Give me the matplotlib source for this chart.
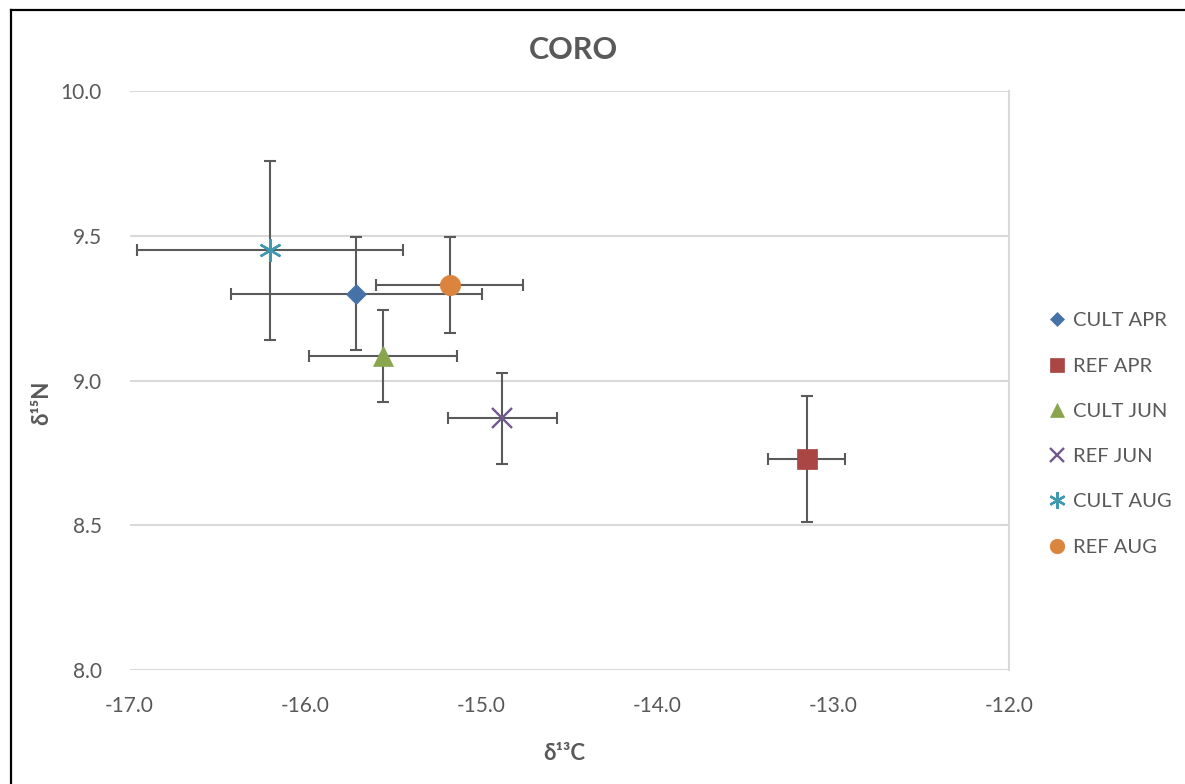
import matplotlib
matplotlib.use("Agg")
import matplotlib.pyplot as plt
from matplotlib.lines import Line2D

plt.rcParams['font.family'] = ['Lato', 'DejaVu Sans']

# ---- data ----
labels = ["CULT APR", "REF APR", "CULT JUN", "REF JUN", "CULT AUG", "REF AUG"]
d13C = [-15.71, -13.15, -15.56, -14.88, -16.20, -15.18]
d15N = [9.30, 8.73, 9.085, 8.87, 9.45, 9.33]
d13C_err = [0.713, 0.22, 0.422, 0.311, 0.757, 0.419]
d15N_err = [0.195, 0.217, 0.160, 0.158, 0.308, 0.166]
colors = ["#4572A7", "#AA4643", "#89A54E", "#71588F", "#4198AF", "#DB843D"]
markers = ["D", "s", "^", "x", (6, 2, 0), "o"]
msizes = [10.2, 14.4, 14.4, 13.7, 16.5, 14.6]

x_ticks = [-17.0, -16.0, -15.0, -14.0, -13.0, -12.0]
y_ticks = [8.0, 8.5, 9.0, 9.5, 10.0]

W, H = 1185, 784
fig = plt.figure(figsize=(W / 100, H / 100), dpi=100)
left, right, top, bottom = 129.5, 1009, 91.3, 670
ax = fig.add_axes([left / W, 1 - bottom / H, (right - left) / W, (bottom - top) / H])

txt = "#595959"
err_col = "#5A5A5A"

handles = []
for i, lab in enumerate(labels):
    ax.errorbar(d13C[i], d15N[i], xerr=d13C_err[i], yerr=d15N_err[i],
                fmt="none", ecolor=err_col, elinewidth=1.5, capsize=4.6,
                capthick=1.5, zorder=2)
    is_line = markers[i] in ("x",) or isinstance(markers[i], tuple)
    if is_line:
        h, = ax.plot(d13C[i], d15N[i], linestyle="none", marker=markers[i],
                     markersize=msizes[i], markeredgecolor=colors[i],
                     markeredgewidth=1.7, color=colors[i], zorder=3, label=lab)
    else:
        h, = ax.plot(d13C[i], d15N[i], linestyle="none", marker=markers[i],
                     markersize=msizes[i], markerfacecolor=colors[i],
                     markeredgecolor=colors[i], markeredgewidth=0.5,
                     color=colors[i], zorder=3, label=lab)
    handles.append(h)

ax.set_xlim(-17, -12)
ax.set_ylim(8, 10)
ax.set_xticks(x_ticks)
ax.set_yticks(y_ticks)
ax.set_xticklabels([f"{v:.1f}" for v in x_ticks])
ax.set_yticklabels([f"{v:.1f}" for v in y_ticks])
ax.tick_params(axis="both", length=0, labelsize=15, labelcolor=txt)
ax.tick_params(axis="x", pad=19)
ax.tick_params(axis="y", pad=20)

ax.grid(axis="y", color="#D9D9D9", linewidth=1.5, zorder=0)
ax.set_axisbelow(True)
for s in ("left", "top", "bottom"):
    ax.spines[s].set_visible(False)
ax.spines["right"].set_color("#D9D9D9")
ax.spines["right"].set_linewidth(1.5)

fig.text(573 / W, 1 - 59 / H, "CORO", ha="center", va="baseline",
         fontsize=22, fontweight="bold", color=txt)
fig.text(564 / W, 1 - 760 / H, "δ¹³C", ha="center", va="baseline",
         fontsize=16, fontweight="bold", color=txt)
fig.text(42 / W, 1 - 380.5 / H, "δ¹⁵N", ha="right", va="center",
         rotation=90, fontsize=16, fontweight="bold", color=txt,
         rotation_mode="anchor")

leg = fig.legend(handles=handles, labels=labels, loc="center left",
                 bbox_to_anchor=(1047 / W, 1 - 434 / H), frameon=False,
                 fontsize=14.5, handlelength=1.0, handletextpad=0.3,
                 labelspacing=1.4, borderpad=0, markerscale=0.72,
                 borderaxespad=0)
for t in leg.get_texts():
    t.set_color(txt)

# outer frame (black lines at left and top)
fx = 11 / W
fy = 1 - 9.5 / H
fig.add_artist(Line2D([fx, fx], [0, fy], transform=fig.transFigure,
                      color="black", linewidth=1.6))
fig.add_artist(Line2D([fx, 1], [fy, fy], transform=fig.transFigure,
                      color="black", linewidth=1.6))

fig.savefig("out.png", dpi=100)
